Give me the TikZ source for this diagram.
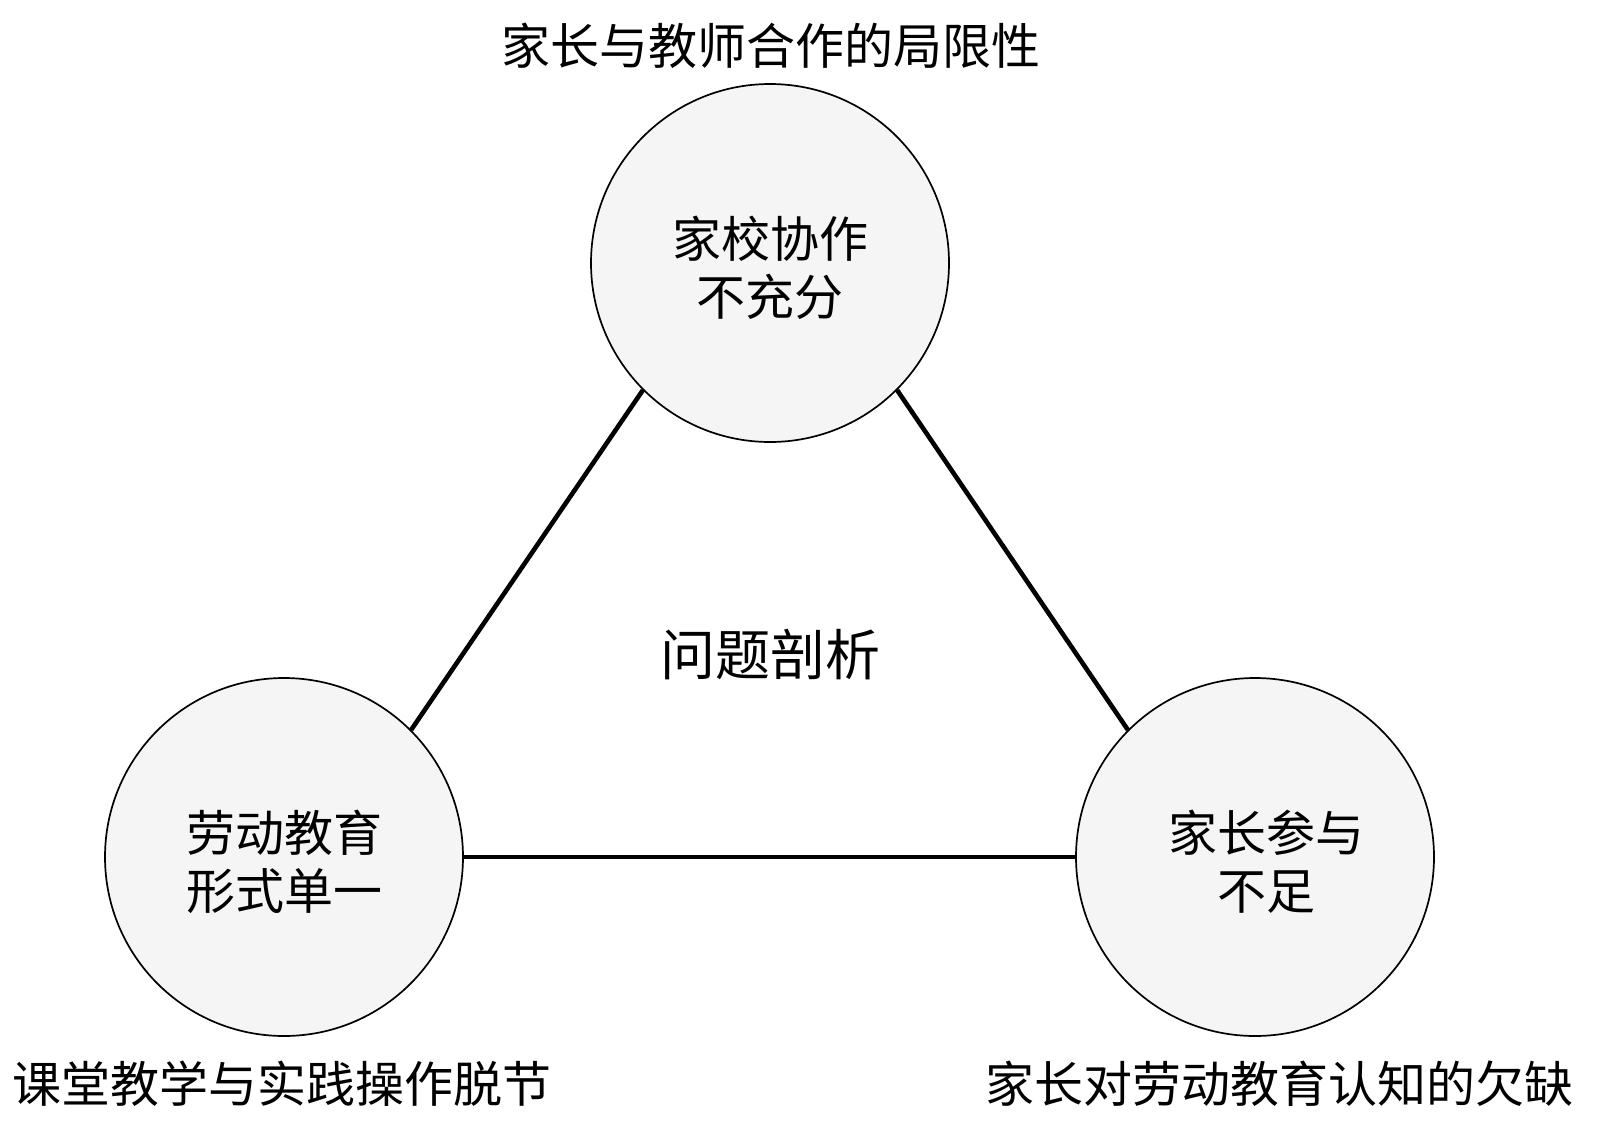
\documentclass[tikz,border=0pt]{standalone}
\usepackage{fontspec}
\setmainfont{Noto Sans CJK SC}
\begin{document}
\begin{tikzpicture}[x=1pt,y=-1pt,
  bubble/.style={circle,draw=black,line width=1.7pt,fill=black!4,minimum size=358pt,inner sep=0pt},
  btext/.style={align=center,inner sep=0pt,font=\fontsize{49}{58}\selectfont},
  link/.style={line width=4.6pt,draw=black},
  lbl/.style={font=\fontsize{49}{56}\selectfont,inner sep=0pt}]
\useasboundingbox (0,0) rectangle (1600,1120);
\node[bubble] (top) at (770,263) {};
\node[bubble] (left) at (284,857) {};
\node[bubble] (right) at (1255,857) {};
\node[btext] (toptext) at (770,268) {家校协作\\不充分};
\node[btext] (lefttext) at (284,862) {劳动教育\\形式单一};
\node[btext] (righttext) at (1266,862) {家长参与\\不足};
\draw[link] (top.225) -- (left.45);
\draw[link] (top.315) -- (right.135);
\draw[link] (left.east) -- (right.west);
\node[font=\fontsize{55}{62}\selectfont,inner sep=0pt] (center) at (770,655) {问题剖析};
\node[lbl] (ttop) at (771,46) {家长与教师合作的局限性};
\node[lbl] (tleft) at (282,1084) {课堂教学与实践操作脱节};
\node[lbl] (tright) at (1279,1084) {家长对劳动教育认知的欠缺};
\end{tikzpicture}
\end{document}
